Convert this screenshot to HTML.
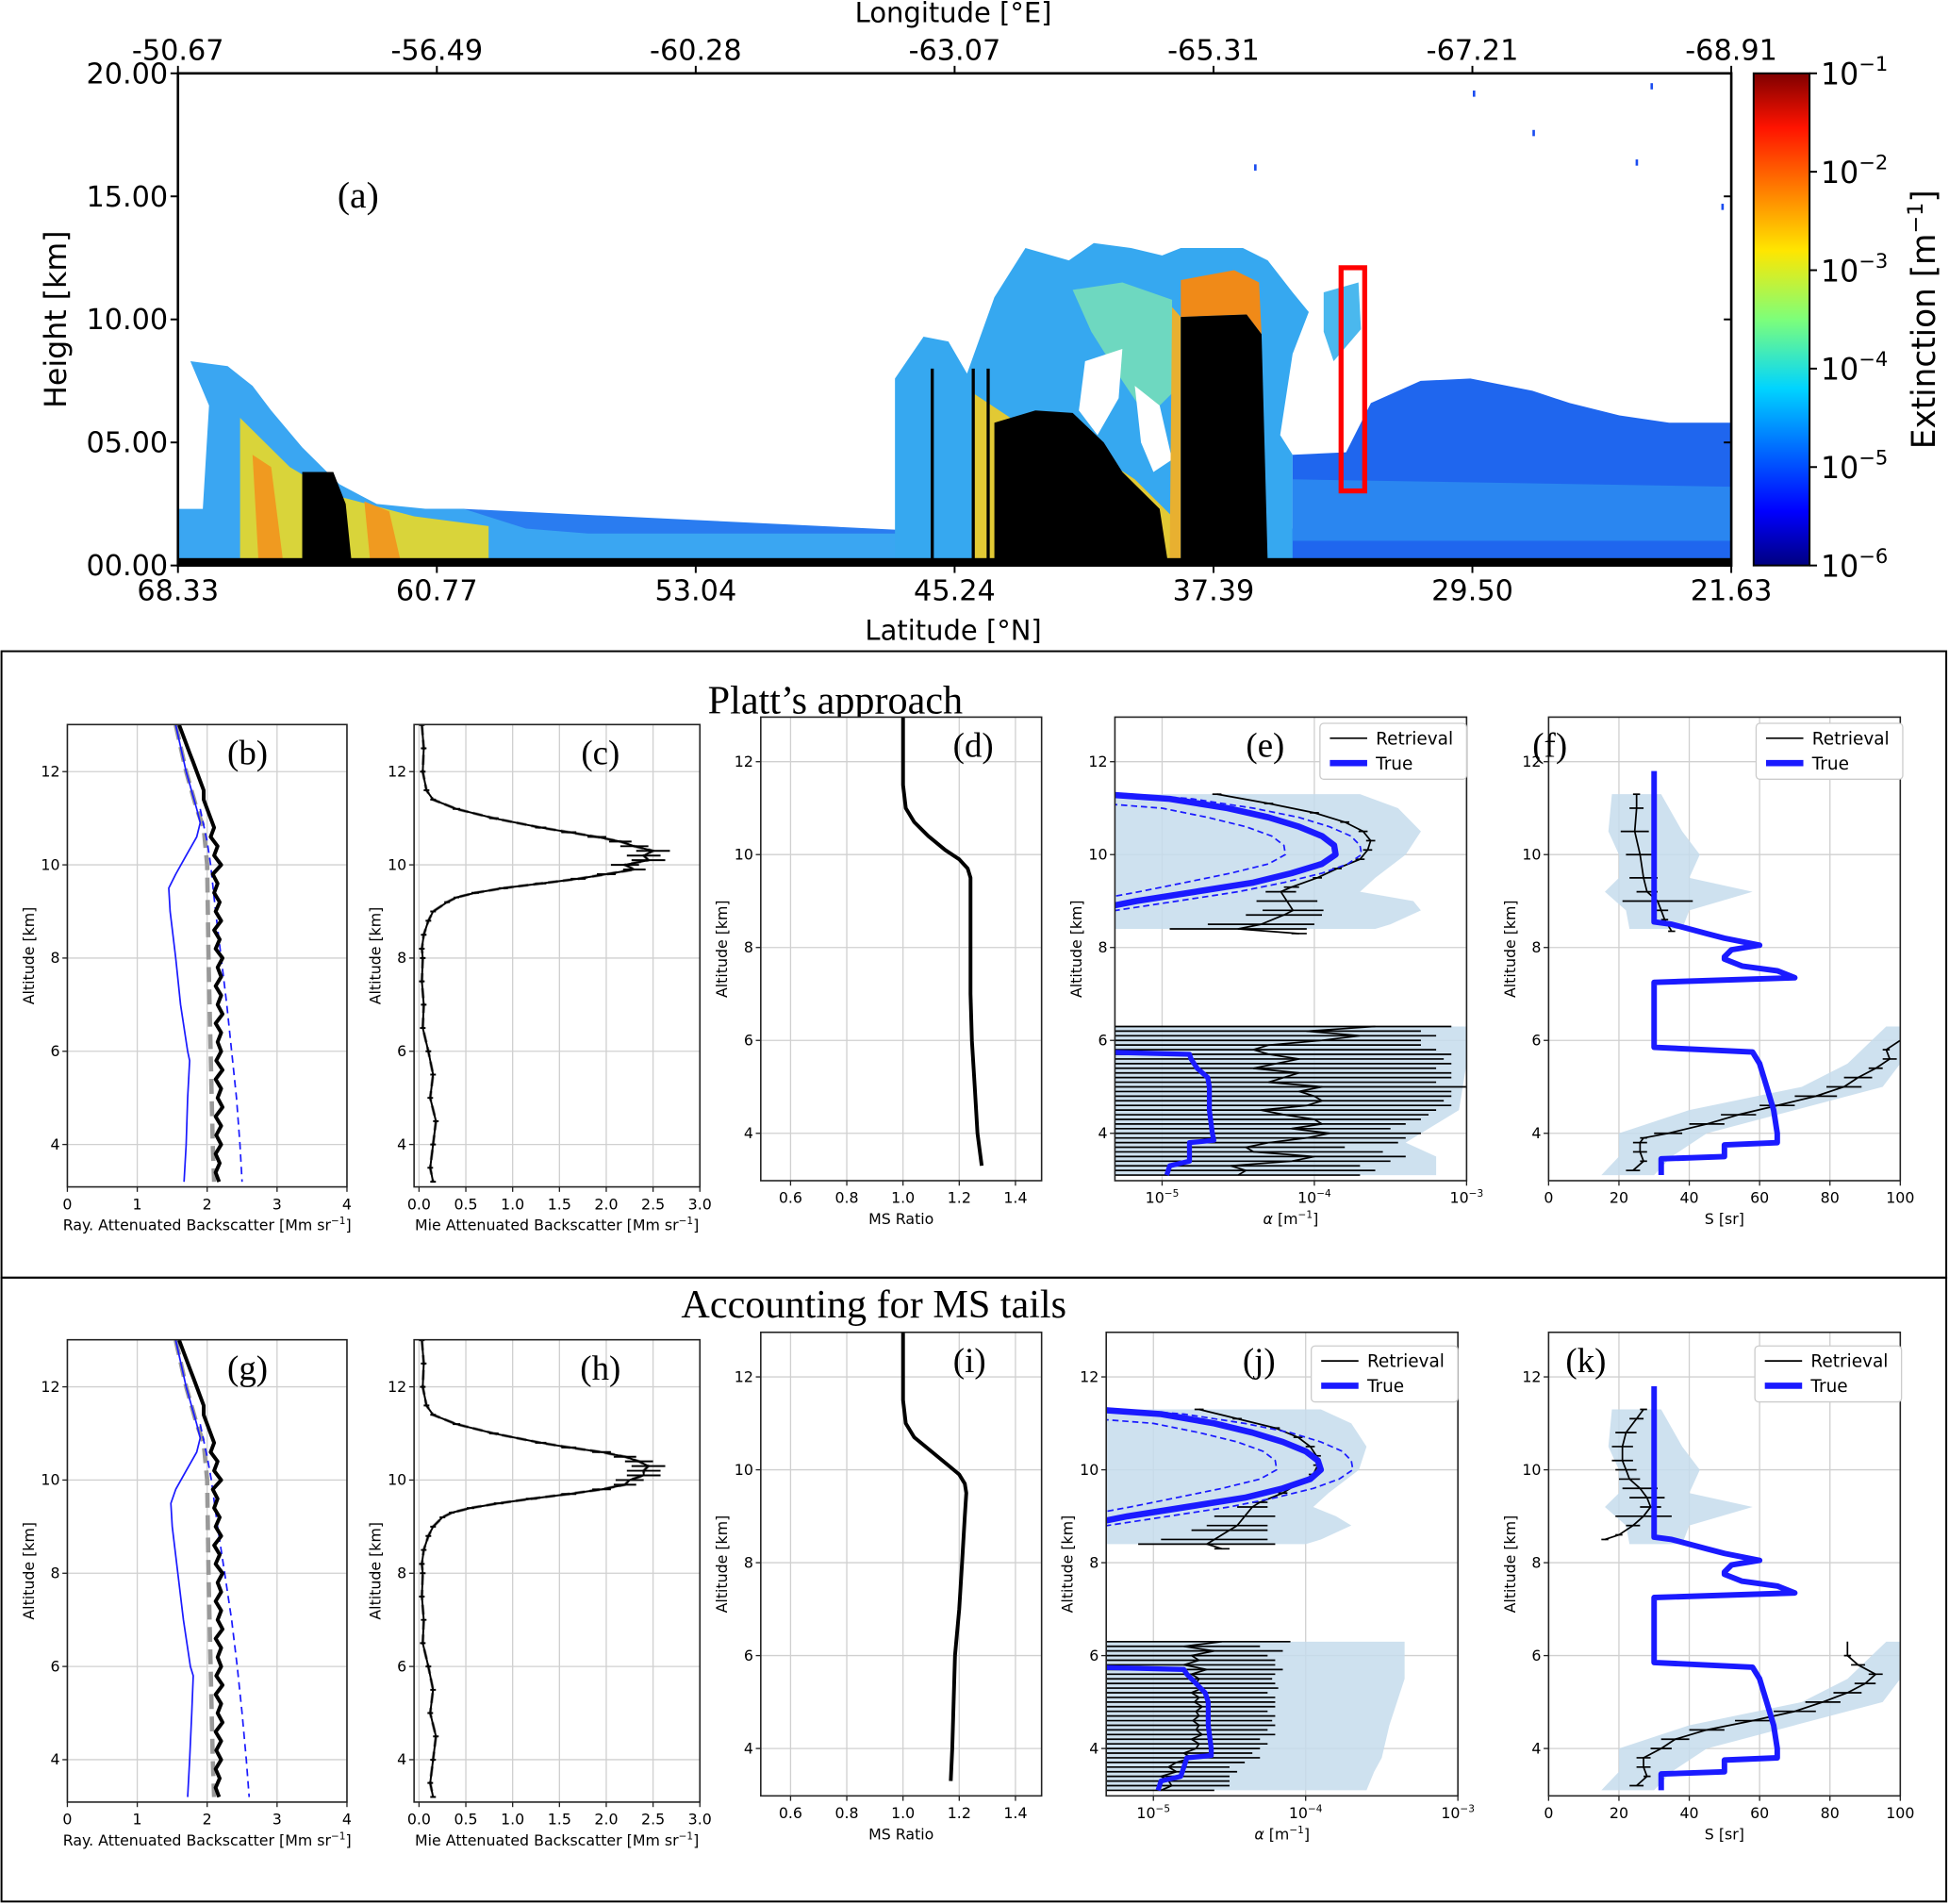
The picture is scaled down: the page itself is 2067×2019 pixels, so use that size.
<!DOCTYPE html>
<html><head><meta charset="utf-8"><style>
html,body{margin:0;padding:0;background:#fff}
svg{display:block}
text{font-family:"DejaVu Sans","Liberation Sans",sans-serif}
.serif{font-family:"Liberation Serif",serif}
</style></head><body>
<svg id="fig" xmlns="http://www.w3.org/2000/svg" width="2067" height="2019" viewBox="0 0 1568 1532">
<defs>
<linearGradient id="jet" x1="0" y1="1" x2="0" y2="0">
<stop offset="0" stop-color="#00007f"/><stop offset="0.11" stop-color="#0000ff"/><stop offset="0.36" stop-color="#00d4ff"/><stop offset="0.5" stop-color="#7dff7a"/><stop offset="0.64" stop-color="#ffe600"/><stop offset="0.89" stop-color="#ff1300"/><stop offset="1" stop-color="#7f0000"/>
</linearGradient>
</defs>
</svg>
<script>
// ===== Panel (a) data: cloud curtain polygons [profile index, height km] =====
const latLabels=["68.33","60.77","53.04","45.24","37.39","29.50","21.63"];
const lonLabels=["-50.67","-56.49","-60.28","-63.07","-65.31","-67.21","-68.91"];
const heightTicks=[0,5,10,15,20];
const heightLabels=["00.00","05.00","10.00","15.00","20.00"];
const cbLabels=["-6","-5","-4","-3","-2","-1"];
const cloudLowBand=[[0,0],[0,1.8],[70,2.3],[230,2.3],[600,1.4],[700,1.5],[1250,1.5],[1250,0]];
const cloudLeftPlume=[[0,0],[0,2.3],[20,2.3],[25,6.5],[10,8.3],[40,8.1],[60,7.3],[75,6.3],[100,4.8],[130,3.3],[160,2.5],[200,2.3],[230,2.3],[280,1.5],[330,1.3],[600,1.3],[650,1.1],[700,1.4],[700,0]];
const cloudLeftYellow=[[50,6],[90,4],[130,2.8],[190,2],[250,1.6],[250,0],[50,0]];
const cloudLeftOrange1=[[60,4.5],[75,4.0],[85,0],[65,0]];
const cloudLeftOrange2=[[150,2.6],[170,2.2],[180,0],[155,0]];
const cloudLeftBlack=[[100,3.8],[125,3.8],[135,2.5],[140,0],[100,0]];
const cloudMid=[[577,7.6],[600,9.3],[620,9.1],[635,7.8],[657,10.9],[682,12.9],[717,12.4],[737,13.1],[767,12.9],[792,12.6],[807,12.9],[857,12.9],[877,12.4],[897,11.1],[910,10.3],[897,8.6],[887,5.3],[897,4.5],[897,0],[577,0]];
const cloudMidGreen=[[720,11.2],[760,11.5],[800,10.8],[800,7.0],[780,6.0],[760,7.5],[735,9.5]];
const cloudSmall=[[922,11.1],[950,11.5],[952,9.6],[930,8.3],[922,9.5]];
const holeA=[[730,8.3],[760,8.8],[757,6.8],[740,5.3],[725,6.3]];
const holeB=[[770,7.3],[790,6.5],[800,4.3],[785,3.8],[775,5]];
const cloudMidYellow=[[640,7],[670,6],[690,5.5],[740,4.5],[770,3.5],[800,2.0],[800,0],[640,0]];
const cloudMidBlack=[[657,5.8],[690,6.3],[720,6.2],[745,5.0],[760,3.8],[790,2.3],[797,0],[657,0]];
const towerOrange=[[807,11.6],[850,12],[870,11.5],[872,9.4],[860,10.2],[807,10.1]];
const towerEdge=[[800,10.5],[807,10.1],[807,0],[798,0]];
const towerBlack=[[807,10.1],[860,10.2],[872,9.4],[877,0],[807,0]];
const cloudRight=[[897,4.5],[940,4.6],[960,6.6],[1000,7.5],[1040,7.6],[1090,7.1],[1120,6.6],[1160,6.1],[1200,5.8],[1250,5.8],[1250,0],[897,0]];
const cloudRightLight=[[897,3.5],[1250,3.2],[1250,1.0],[897,1.0]];
const specks=[[1042,19.3],[1185,19.6],[1090,17.7],[1173,16.5],[866,16.3],[1242,14.7]];
const blackLines=[607,640,652];
const redBox=[936,955,3.03,12.1];

// ===== Profile panels data =====
const gridA=[]; for(let i=0;i<50;i++) gridA.push(13-0.2*i);
const bMeas=[1.6,1.65,1.7,1.75,1.8,1.85,1.9,1.95,1.95,2.0,2.05,2.1,2.05,2.15,2.1,2.2,2.08,2.15,2.1,2.18,2.12,2.2,2.1,2.18,2.12,2.22,2.15,2.2,2.12,2.2,2.15,2.22,2.12,2.2,2.15,2.2,2.13,2.22,2.12,2.2,2.15,2.22,2.12,2.2,2.13,2.2,2.12,2.18,2.12,2.17];
const bGreyAlt=[13,12,11.2,10.8,10,8,6,4,3.2];
const bGrey=[1.55,1.7,1.85,1.95,2.0,2.02,2.05,2.08,2.1];
const bBlueAlt=[13,12,11.2,10.9,10.6,10.2,9.8,9.5,9,8,7,6,5.8,5,4,3.2];
const bBlue=[1.55,1.7,1.85,1.9,1.85,1.7,1.55,1.45,1.47,1.55,1.62,1.72,1.75,1.72,1.7,1.67];
const gBlue=[1.55,1.7,1.85,1.9,1.85,1.7,1.55,1.48,1.5,1.58,1.66,1.76,1.8,1.78,1.75,1.72];
const bDashAlt=[11.2,10.5,10,9,8,7,6,5,4,3.2];
const bDash=[1.9,2.0,2.05,2.12,2.2,2.28,2.35,2.42,2.47,2.5];
const gDash=[1.9,2.0,2.06,2.15,2.25,2.35,2.43,2.5,2.56,2.6];
const cAlt=[13,12.5,12,11.6,11.4,11.2,11.0,10.8,10.7,10.6,10.5,10.4,10.3,10.2,10.1,10.0,9.9,9.8,9.7,9.6,9.5,9.4,9.3,9.2,9.0,8.8,8.5,8.2,8.0,7.5,7,6.5,6,5.5,5,4.5,4,3.5,3.2];
const cVal=[0.03,0.05,0.04,0.08,0.15,0.4,0.8,1.3,1.6,1.9,2.15,2.3,2.5,2.4,2.45,2.2,2.3,2.0,1.7,1.3,0.9,0.6,0.4,0.3,0.15,0.1,0.05,0.03,0.04,0.03,0.05,0.04,0.1,0.15,0.12,0.18,0.15,0.12,0.15];
const hVal=[0.03,0.05,0.04,0.08,0.15,0.4,0.8,1.3,1.6,1.95,2.2,2.35,2.45,2.4,2.4,2.25,2.2,1.95,1.6,1.2,0.85,0.55,0.35,0.25,0.15,0.1,0.05,0.03,0.04,0.03,0.05,0.04,0.1,0.15,0.12,0.18,0.15,0.12,0.15];
const cErr=[0.03,0.03,0.03,0.03,0.03,0.04,0.05,0.06,0.08,0.1,0.12,0.15,0.18,0.18,0.18,0.15,0.12,0.1,0.08,0.06,0.05,0.04,0.03,0.03,0.03,0.03,0.03,0.03,0.03,0.03,0.03,0.03,0.03,0.03,0.03,0.03,0.03,0.03,0.03];
const dAlt=[13,11.5,11,10.7,10.4,10.1,9.9,9.7,9.5,9,8,7,6,5,4,3.3];
const dVal=[1.0,1.0,1.01,1.04,1.09,1.15,1.2,1.23,1.24,1.24,1.24,1.24,1.245,1.255,1.265,1.28];
const iVal=[1.0,1.0,1.01,1.04,1.1,1.16,1.2,1.22,1.225,1.22,1.21,1.2,1.185,1.18,1.175,1.17];
const eTrueAlt=[11.3,11.2,11.0,10.8,10.6,10.4,10.2,10.0,9.8,9.6,9.4,9.2,9.0,8.85];
const eTrue=[-5.4,-4.95,-4.57,-4.3,-4.1,-3.95,-3.87,-3.86,-3.95,-4.15,-4.4,-4.78,-5.17,-5.4];
const jTrue=[-5.4,-4.95,-4.6,-4.35,-4.15,-4.0,-3.92,-3.9,-3.97,-4.15,-4.4,-4.78,-5.17,-5.4];
const eInAlt=[11.1,11.0,10.8,10.6,10.4,10.2,10.0,9.8,9.6,9.4,9.2,9.05];
const eIn=[-5.4,-5.0,-4.7,-4.45,-4.28,-4.2,-4.19,-4.3,-4.55,-4.85,-5.15,-5.4];
const eOutAlt=[11.35,11.2,11.0,10.8,10.6,10.4,10.2,10.0,9.8,9.6,9.4,9.2,9.0,8.75];
const eOut=[-5.4,-4.8,-4.4,-4.1,-3.9,-3.76,-3.7,-3.69,-3.78,-3.95,-4.2,-4.5,-4.9,-5.4];
const eRetAlt=[11.3,11.1,10.9,10.7,10.5,10.3,10.1,9.9,9.7,9.5,9.3,9.2,9.0,8.8,8.7,8.5,8.4,8.3];
const eRet=[-4.64,-4.3,-4.0,-3.8,-3.68,-3.63,-3.65,-3.7,-3.85,-3.98,-4.15,-4.22,-4.18,-4.14,-4.2,-4.35,-4.5,-4.1];
const jRet=[-4.7,-4.45,-4.2,-4.05,-3.97,-3.93,-3.92,-3.95,-4.05,-4.15,-4.3,-4.35,-4.4,-4.45,-4.5,-4.6,-4.65,-4.55];
const eRetErr=[0.03,0.03,0.03,0.03,0.03,0.03,0.03,0.03,0.03,0.03,0.05,0.1,0.2,0.2,0.25,0.35,0.45,0.05];
const eShadeAlt=[11.3,11,10.5,10,9.5,9.2,9,8.8,8.5,8.4];
const eShadeR=[-3.7,-3.45,-3.3,-3.4,-3.6,-3.7,-3.35,-3.3,-3.5,-3.6];
const jShadeR=[-3.9,-3.7,-3.6,-3.65,-3.85,-3.95,-3.8,-3.7,-3.9,-4.0];
const lowAlt=[]; for(let i=0;i<33;i++) lowAlt.push(6.3-0.1*i);
const eLow=[-3.6,-4.05,-3.7,-3.95,-4.3,-4.4,-4.3,-4.1,-4.25,-4.4,-4.1,-4.2,-4.3,-3.95,-4.1,-4.0,-3.95,-4.05,-4.35,-4.2,-4.0,-3.95,-4.15,-3.9,-4.05,-4.3,-4.45,-4.4,-4.0,-4.15,-4.55,-4.45,-4.5];
const eLowHi=[-3.1,-3.3,-3.2,-3.3,-3.3,-3.2,-3.1,-3.15,-3.1,-3.2,-3.1,-3.1,-3.2,-3.0,-3.1,-3.1,-3.15,-3.1,-3.2,-3.25,-3.3,-3.4,-3.5,-3.3,-3.4,-3.45,-3.8,-3.55,-3.4,-3.5,-3.7,-3.6,-3.7];
const jLow=[-4.55,-4.8,-4.6,-4.75,-4.7,-4.8,-4.65,-4.75,-4.7,-4.72,-4.68,-4.75,-4.7,-4.73,-4.68,-4.72,-4.7,-4.74,-4.7,-4.72,-4.68,-4.75,-4.7,-4.72,-4.8,-4.75,-4.85,-4.9,-4.85,-4.95,-4.9,-4.88,-4.95];
const jLowHi=[-4.1,-4.3,-4.15,-4.25,-4.2,-4.2,-4.15,-4.2,-4.22,-4.2,-4.18,-4.25,-4.2,-4.2,-4.2,-4.25,-4.2,-4.22,-4.2,-4.25,-4.2,-4.3,-4.25,-4.3,-4.35,-4.3,-4.4,-4.5,-4.45,-4.5,-4.5,-4.5,-4.6];
const lowShadeAlt=[6.3,5.5,4.5,3.8,3.5,3.1];
const eLowShadeR=[-3.0,-3.0,-3.05,-3.4,-3.2,-3.2];
const jLowShadeR=[-3.35,-3.35,-3.45,-3.5,-3.55,-3.6];
const eLowTrueAlt=[5.75,5.7,5.6,5.4,5.2,5.0,4.5,4.0,3.85,3.8,3.6,3.4,3.3,3.1];
const eLowTrue=[-5.4,-4.82,-4.81,-4.77,-4.70,-4.69,-4.69,-4.67,-4.66,-4.82,-4.82,-4.82,-4.95,-4.97];
const jLowTrue=[-5.4,-4.8,-4.78,-4.72,-4.66,-4.64,-4.64,-4.62,-4.62,-4.78,-4.8,-4.82,-4.95,-4.97];
const sTrueAlt=[11.8,9.0,8.55,8.5,8.3,8.2,8.05,7.95,7.8,7.75,7.6,7.5,7.35,7.25,5.85,5.75,5.5,5.0,4.5,4.0,3.8,3.75,3.5,3.45,3.1];
const sTrue=[30,30,30,35,45,50,60,52,50,50,55,65,70,30,30,58,60,62,64,65,65,50,50,32,32];
const fUpAlt=[11.3,11,10.5,10,9.5,9.2,9.0,8.8,8.6,8.35];
const fUp=[25,25,24.5,26,27,28,31,32,33,35];
const fUpErr=[1,2,4,4,4,3,10,2,1,1];
const fLowAlt=[6.0,5.8,5.6,5.4,5.2,5.0,4.8,4.6,4.4,4.2,4.0,3.9,3.8,3.6,3.4,3.2];
const fLow=[100,96,97,93,88,84,76,65,54,45,34,27,26,26,27,24];
const fLowErr=[0,1,2,2,4,5,6,5,5,5,4,1,2,2,1,2];
const kUpAlt=[11.3,11.1,10.8,10.5,10.2,10,9.8,9.6,9.4,9.2,9.0,8.8,8.6,8.5];
const kUp=[27,25,22,21,21,22,23,26,28,29,27,24,20,16];
const kUpErr=[1,2,3,3,3,3,3,5,5,3,8,2,1,1];
const kLowAlt=[6.3,6.0,5.8,5.6,5.4,5.2,5.0,4.8,4.6,4.4,4.2,4.0,3.8,3.6,3.4,3.2];
const kLow=[85,85,88,93,90,85,78,70,58,45,36,32,27,27,28,25];
const kLowErr=[0,1,2,2,3,4,5,6,5,5,4,3,2,2,1,2];
const sShUpAlt=[11.3,10.5,10,9.5,9.2,8.8,8.4];
const sShUpL=[18,17,20,20,16,22,23];
const sShUpR=[32,38,43,40,58,40,38];
const sShLowAlt=[6.3,5.5,5,4.5,4,3.5,3.1];
const sShLowL=[96,85,72,40,20,20,15];
const sShLowR=[100,100,95,70,45,35,30];

const NS="http://www.w3.org/2000/svg";
const S=document.getElementById('fig');
function el(tag,a,p){const e=document.createElementNS(NS,tag);for(const k in a)e.setAttribute(k,a[k]);(p||S).appendChild(e);return e;}
function txt(x,y,s,size,anchor,p,cls){const t=el('text',{x:x,y:y,'font-size':size,'text-anchor':anchor||'middle'},p);if(cls)t.setAttribute('class',cls);t.textContent=s;return t;}

// ---------- Panel (a) ----------
const AX0=143,AX1=1393,AY0=59,AY1=455;
const ax=i=>AX0+i;
const ay=h=>AY1-h*(AY1-AY0)/20;
const gA=el('g',{});


const cpa=el('clipPath',{id:'clipA'});
el('rect',{x:AX0,y:AY0,width:AX1-AX0,height:AY1-AY0},cpa);
const gAc=el('g',{'clip-path':'url(#clipA)'},gA);
function poly(arr,fill,name){const p=el('polygon',{points:arr.map(q=>ax(q[0])+','+ay(q[1])).join(' '),fill:fill},gAc);


return p;}
poly(cloudLowBand,'#2a7cf0','low-cloud-band');
poly(cloudLeftPlume,'#3aa6f2','left-cloud-plume');
poly(cloudLeftYellow,'#d9d43a','left-cloud-core');
poly(cloudLeftOrange1,'#f09a20','left-cloud-streak');
poly(cloudLeftOrange2,'#f09a20','left-cloud-streak');
poly(cloudLeftBlack,'#000','left-cloud-attenuated');
poly(cloudMid,'#36a8f0','central-cloud-system');
poly(cloudMidGreen,'#6ed8c0','central-cloud-core-cyan');
poly(cloudSmall,'#4ab8ee','small-cirrus');
poly(holeA,'#fff','cloud-gap-1');
poly(holeB,'#fff','cloud-gap-2');
poly(cloudRight,'#1f66ee','right-cloud-layer');
poly(cloudRightLight,'#2a86f0','right-cloud-lower');
poly(cloudMidYellow,'#e2c934','central-cloud-core');
poly(cloudMidBlack,'#000','central-attenuated');
poly(towerOrange,'#f08a18','tower-cloud-top');
poly(towerEdge,'#e8b030','tower-edge');
poly(towerBlack,'#000','tower-attenuated');
specks.forEach(q=>{const r=el('rect',{x:ax(q[0]),y:ay(q[1]),width:2,height:5,fill:'#1a4cf0'},gAc);

});
blackLines.forEach(i=>{const l=el('line',{x1:ax(i),x2:ax(i),y1:ay(8),y2:ay(0),stroke:'#000','stroke-width':2.5},gAc);

});
const gr=el('rect',{x:AX0,y:ay(0.3),width:AX1-AX0,height:ay(0)-ay(0.3),fill:'#000'},gAc);


const rb=el('rect',{x:ax(redBox[0]),y:ay(redBox[3]),width:ax(redBox[1])-ax(redBox[0]),height:ay(redBox[2])-ay(redBox[3]),fill:'none',stroke:'#f00','stroke-width':4},gA);


const fa=el('rect',{x:AX0,y:AY0,width:AX1-AX0,height:AY1-AY0,fill:'none',stroke:'#000','stroke-width':2},gA);


latLabels.forEach((s,i)=>{const x=AX0+i*(AX1-AX0)/6;
el('line',{x1:x,x2:x,y1:AY1,y2:AY1+6,stroke:'#000','stroke-width':1.5},gA);
el('line',{x1:x,x2:x,y1:AY0,y2:AY0-6,stroke:'#000','stroke-width':1.5},gA);
const t=txt(x,483,s,23,'middle',gA);


const t2=txt(x,48,lonLabels[i],23,'middle',gA);

});
heightTicks.forEach((h,i)=>{el('line',{x1:AX0-6,x2:AX0,y1:ay(h),y2:ay(h),stroke:'#000','stroke-width':1.5},gA);
el('line',{x1:AX1,x2:AX1-6,y1:ay(h),y2:ay(h),stroke:'#000','stroke-width':1.5},gA);
const t=txt(AX0-8,ay(h)+8,heightLabels[i],23,'end',gA);

});
let t0=txt(767,18,'Longitude  [°E]',22,'middle',gA);


t0=txt(767,515,'Latitude  [°N]',22,'middle',gA);


t0=txt(0,0,'Height [km]',24,'middle',gA);t0.setAttribute('transform','translate(53,257) rotate(-90)');


t0=txt(288,167,'(a)',30,'middle',gA,'serif');


const cb=el('rect',{x:1411,y:59,width:45,height:396,fill:'url(#jet)',stroke:'#000','stroke-width':1.5},gA);


cbLabels.forEach((s,i)=>{const y=455-i*396/5;
el('line',{x1:1456,x2:1462,y1:y,y2:y,stroke:'#000','stroke-width':1.5},gA);
const t=el('text',{x:1465,y:y+9,'font-size':24},gA);


t.innerHTML='10<tspan dy="-11" font-size="16">'+s.replace('-','−')+'</tspan>';});
t0=el('text',{'font-size':26,'text-anchor':'middle',transform:'translate(1557,257) rotate(-90)'},gA);
t0.innerHTML='Extinction [m<tspan dy="-10" font-size="17">−1</tspan><tspan dy="10">]</tspan>';



[[524,1028],[1028,1530]].forEach((r,i)=>{const f=el('rect',{x:1,y:r[0],width:1565,height:r[1]-r[0],fill:'none',stroke:'#000','stroke-width':1.5});

});
t0=txt(672,574,'Platt’s approach',32,'middle',S,'serif');


t0=txt(703,1060,'Accounting for MS tails',32,'middle',S,'serif');



let clipN=0;
function panel(o){
 const g=el('g',{});
 
 
 const X=v=>o.x0+(v-o.xd[0])/(o.xd[1]-o.xd[0])*(o.x1-o.x0);
 const Y=v=>o.y1-(v-o.yd[0])/(o.yd[1]-o.yd[0])*(o.y1-o.y0);
 el('rect',{x:o.x0,y:o.y0,width:o.x1-o.x0,height:o.y1-o.y0,fill:'#fff'},g);
 o.xt.forEach(v=>el('line',{x1:X(v),x2:X(v),y1:o.y0,y2:o.y1,stroke:'#d0d0d0','stroke-width':1},g));
 [4,6,8,10,12].forEach(v=>el('line',{x1:o.x0,x2:o.x1,y1:Y(v),y2:Y(v),stroke:'#d0d0d0','stroke-width':1},g));
 const id='cp'+(clipN++);
 const cp=el('clipPath',{id:id},g);el('rect',{x:o.x0,y:o.y0,width:o.x1-o.x0,height:o.y1-o.y0},cp);
 const c=el('g',{'clip-path':'url(#'+id+')'},g);
 const fr=el('rect',{x:o.x0,y:o.y0,width:o.x1-o.x0,height:o.y1-o.y0,fill:'none',stroke:'#222','stroke-width':1.2},g);
 
 
 o.xt.forEach((v,i)=>{el('line',{x1:X(v),x2:X(v),y1:o.y1,y2:o.y1+4,stroke:'#222'},g);
  const t=el('text',{x:X(v),y:o.y1+18,'font-size':12,'text-anchor':'middle'},g);
  
  
  t.innerHTML=o.xl[i];});
 [4,6,8,10,12].forEach(v=>{el('line',{x1:o.x0-4,x2:o.x0,y1:Y(v),y2:Y(v),stroke:'#222'},g);
  const t=txt(o.x0-6,Y(v)+4,String(v),12,'end',g);
  
  });
 const xl=el('text',{x:(o.x0+o.x1)/2,y:o.y1+35,'font-size':12,'text-anchor':'middle'},g);
 xl.innerHTML=o.xlabel;
 
 
 const yl=txt(0,0,'Altitude [km]',12,'middle',g);yl.setAttribute('transform','translate('+(o.x0-27)+','+((o.y0+o.y1)/2)+') rotate(-90)');
 
 
 const pl=txt(o.lx,o.ly,'('+o.name+')',28,'middle',g,'serif');
 
 
 return {X,Y,c,g};
}
function line(P,alts,vals,st,name){const d=alts.map((a,i)=>(i?'L':'M')+P.X(vals[i]).toFixed(1)+','+P.Y(a).toFixed(1)).join('');
 const p=el('path',Object.assign({d:d,fill:'none','stroke-linejoin':'round'},st),P.c);
 
 return p;}
function ebars(P,alts,lo,hi,w,name){alts.forEach((a,i)=>{const l=el('line',{x1:P.X(lo[i]),x2:P.X(hi[i]),y1:P.Y(a),y2:P.Y(a),stroke:'#000','stroke-width':w||1.3},P.c);
 
 });}
function shade(P,alts,L,R,name){const pts=alts.map((a,i)=>P.X(R[i])+','+P.Y(a)).concat(alts.slice().reverse().map((a,j)=>P.X(L[alts.length-1-j])+','+P.Y(a)));
 const p=el('polygon',{points:pts.join(' '),fill:'#c6dcec',opacity:0.85},P.c);
 
 }
function legend(x,y,name){const g=el('g',{});
 
 
 el('rect',{x:x,y:y,width:118,height:45,rx:3,fill:'#fff',stroke:'#ccc'},g);
 el('line',{x1:x+8,x2:x+38,y1:y+12,y2:y+12,stroke:'#000','stroke-width':1.3},g);
 el('line',{x1:x+8,x2:x+38,y1:y+32,y2:y+32,stroke:'#1a1aff','stroke-width':5},g);
 txt(x+45,y+17,'Retrieval',14,'start',g);txt(x+45,y+37,'True',14,'start',g);}

const sup='[Mm sr<tspan dy="-5" font-size="8">−1</tspan><tspan dy="5">]</tspan>';
const logL=['10<tspan dy="-5" font-size="8">−5</tspan>','10<tspan dy="-5" font-size="8">−4</tspan>','10<tspan dy="-5" font-size="8">−3</tspan>'];
function row(r){
 const off=r?495:0, ydBC=[3.09,13.01], ydD=[2.98,12.96];
 const L=r?['g','h','i','j','k']:['b','c','d','e','f'];
 let P=panel({name:L[0],x0:54,x1:279,y0:583+off,y1:955+off,xd:[0,4],yd:ydBC,xt:[0,1,2,3,4],xl:['0','1','2','3','4'],xlabel:'Ray. Attenuated Backscatter '+sup,lx:199,ly:615+off});
 line(P,bGreyAlt,bGrey,{stroke:'#999','stroke-width':3.5,'stroke-dasharray':'12,6'},'fitted-rayleigh');
 line(P,bBlueAlt,r?gBlue:bBlue,{stroke:'#1a1aff','stroke-width':1.3},'true-attenuated-rayleigh');
 line(P,bDashAlt,r?gDash:bDash,{stroke:'#1a1aff','stroke-width':1.3,'stroke-dasharray':'6,4'},'rayleigh-no-ms');
 line(P,gridA,bMeas,{stroke:'#000','stroke-width':3},'measured-rayleigh');
 P=panel({name:L[1],x0:333,x1:563,y0:583+off,y1:955+off,xd:[-0.053,3.0],yd:ydBC,xt:[0,0.5,1,1.5,2,2.5,3],xl:['0.0','0.5','1.0','1.5','2.0','2.5','3.0'],xlabel:'Mie Attenuated Backscatter '+sup,lx:483,ly:615+off});
 const v=r?hVal:cVal;
 line(P,cAlt,v,{stroke:'#999','stroke-width':2.5,'stroke-dasharray':'8,4'},'fitted-mie');
 line(P,cAlt,v,{stroke:'#000','stroke-width':1.5},'measured-mie');
 ebars(P,cAlt,v.map((x,i)=>x-cErr[i]),v.map((x,i)=>x+cErr[i]),1.5,'mie-error-bar');
 P=panel({name:L[2],x0:612,x1:838,y0:577+off,y1:950+off,xd:[0.494,1.493],yd:ydD,xt:[0.6,0.8,1.0,1.2,1.4],xl:['0.6','0.8','1.0','1.2','1.4'],xlabel:'MS Ratio',lx:r?780:783,ly:609+off});
 line(P,dAlt,r?iVal:dVal,{stroke:'#000','stroke-width':3},'ms-ratio');
 const ex=r?-7:0;
 P=panel({name:L[3],x0:897+ex,x1:1180+ex,y0:577+off,y1:950+off,xd:[-5.31,-3],yd:ydD,xt:[-5,-4,-3],xl:logL,xlabel:'<tspan font-style="italic">α</tspan> [m<tspan dy="-5" font-size="8">−1</tspan><tspan dy="5">]</tspan>',lx:r?1013:1018,ly:609+off});
 shade(P,eShadeAlt,eShadeAlt.map(()=>-5.5),r?jShadeR:eShadeR,'uncertainty-band-upper');
 shade(P,lowShadeAlt,lowShadeAlt.map(()=>-5.5),r?jLowShadeR:eLowShadeR,'uncertainty-band-lower');
 const lo=r?jLow:eLow, hi=r?jLowHi:eLowHi;
 ebars(P,lowAlt,lo.map(()=>-5.5),hi,1.3,'extinction-error-bar');
 line(P,lowAlt,lo,{stroke:'#000','stroke-width':1.3},'retrieved-extinction-lower');
 const rt=r?jRet:eRet;
 ebars(P,eRetAlt,rt.map((x,i)=>x-eRetErr[i]),rt.map((x,i)=>x+eRetErr[i]),1.3,'extinction-error-bar');
 line(P,eRetAlt,rt,{stroke:'#000','stroke-width':1.3},'retrieved-extinction-upper');
 line(P,eInAlt,eIn,{stroke:'#1a1aff','stroke-width':1.3,'stroke-dasharray':'5,3'},'true-extinction-lower-bound');
 line(P,eOutAlt,eOut,{stroke:'#1a1aff','stroke-width':1.3,'stroke-dasharray':'5,3'},'true-extinction-upper-bound');
 line(P,eTrueAlt,r?jTrue:eTrue,{stroke:'#1a1aff','stroke-width':5},'true-extinction-upper');
 line(P,eLowTrueAlt,r?jLowTrue:eLowTrue,{stroke:'#1a1aff','stroke-width':4},'true-extinction-lower');
 legend(r?1055:1062,(r?1083:582),'legend-'+L[3]);
 P=panel({name:L[4],x0:1246,x1:1529,y0:577+off,y1:950+off,xd:[0,100],yd:ydD,xt:[0,20,40,60,80,100],xl:['0','20','40','60','80','100'],xlabel:'S [sr]',lx:r?1276:1247,ly:609+off});
 shade(P,sShUpAlt,sShUpL,sShUpR,'lidar-ratio-band-upper');
 shade(P,sShLowAlt,sShLowL,sShLowR,'lidar-ratio-band-lower');
 const ua=r?kUpAlt:fUpAlt,u=r?kUp:fUp,ue=r?kUpErr:fUpErr,la=r?kLowAlt:fLowAlt,lw=r?kLow:fLow,le=r?kLowErr:fLowErr;
 ebars(P,ua,u.map((x,i)=>x-ue[i]),u.map((x,i)=>x+ue[i]),1.3,'lidar-ratio-error-bar');
 ebars(P,la,lw.map((x,i)=>x-le[i]),lw.map((x,i)=>x+le[i]),1.3,'lidar-ratio-error-bar');
 line(P,ua,u,{stroke:'#000','stroke-width':1.3},'retrieved-lidar-ratio-upper');
 line(P,la,lw,{stroke:'#000','stroke-width':1.3},'retrieved-lidar-ratio-lower');
 line(P,sTrueAlt,sTrue,{stroke:'#1a1aff','stroke-width':4.5},'true-lidar-ratio');
 legend(r?1412:1413,(r?1083:582),'legend-'+L[4]);
}
row(0);row(1);
</script>
</body></html>
